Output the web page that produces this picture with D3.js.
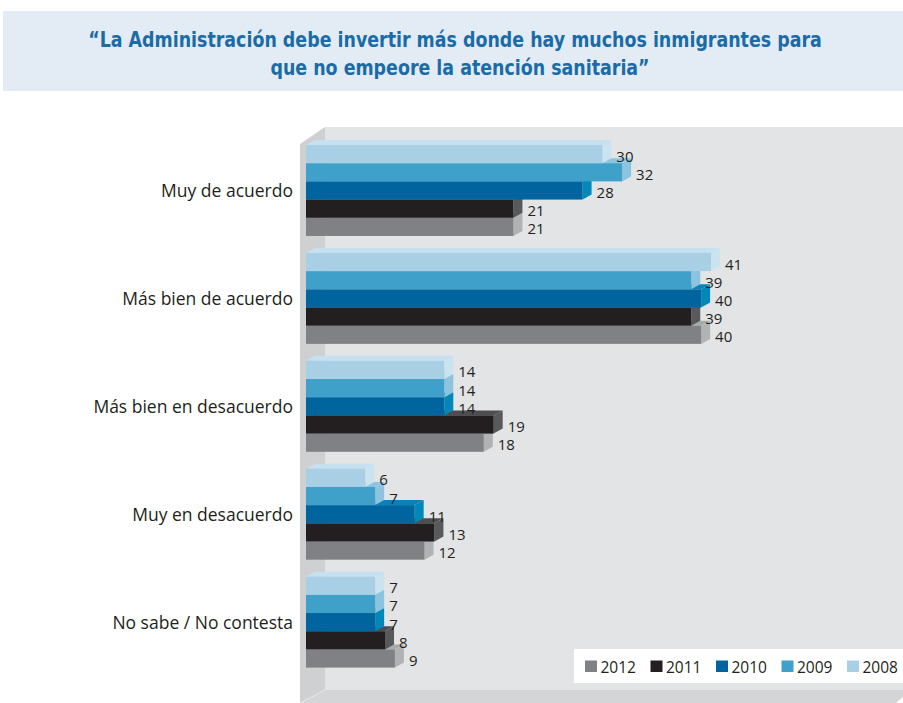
<!DOCTYPE html>
<html>
<head>
<meta charset="utf-8">
<script src="https://cdn.jsdelivr.net/npm/d3@7/dist/d3.min.js"></script>
<style>
  html, body { margin: 0; padding: 0; background: #ffffff; }
  svg { display: block; }
</style>
</head>
<body>
<svg id="chart" width="903" height="703"></svg>
<script>
// ---------- data ----------
const titleLines = [
  "\u201cLa Administración debe invertir más donde hay muchos inmigrantes para",
  "que no empeore la atención sanitaria\u201d"
];
const categories = ["Muy de acuerdo", "Más bien de acuerdo", "Más bien en desacuerdo", "Muy en desacuerdo", "No sabe / No contesta"];
const years = ["2008", "2009", "2010", "2011", "2012"];
const v2008 = [30, 41, 14, 6, 7];
const v2009 = [32, 39, 14, 7, 7];
const v2010 = [28, 40, 14, 11, 7];
const v2011 = [21, 39, 19, 13, 8];
const v2012 = [21, 40, 18, 12, 9];
const legendYears = ["2012", "2011", "2010", "2009", "2008"];

const seriesByYear = { "2008": v2008, "2009": v2009, "2010": v2010, "2011": v2011, "2012": v2012 };
const colors = {
  "2008": { front: "#a8cfe3", top: "#c6e0f0", side: "#cbe2ef" },
  "2009": { front: "#3fa1c9", top: "#8cc5e2", side: "#8cc3df" },
  "2010": { front: "#00659e", top: "#0a82b8", side: "#0088b8" },
  "2011": { front: "#231f20", top: "#4e4e50", side: "#58595b" },
  "2012": { front: "#808184", top: "#a9aaac", side: "#b1b2b4" }
};

const svg = d3.select("#chart");
const textColor = "#231f20";

// ---------- title ----------
svg.append("rect").attr("x", 3).attr("y", 11).attr("width", 900).attr("height", 80).attr("fill", "#e3ebf4");
const titleFirstWidth = 734;
const titleG = svg.append("g");
const titleTexts = titleG.selectAll("text").data(titleLines).join("text")
  .attr("text-anchor", "middle")
  .attr("x", 0)
  .attr("y", (d, i) => 47 + i * 28)
  .attr("font-family", "'Liberation Sans Narrow', 'DejaVu Sans Condensed', 'Open Sans', sans-serif")
  .attr("font-weight", "bold")
  .attr("font-size", 22)
  .attr("fill", "#1b6ca6")
  .text(d => d);
const natural = titleTexts.nodes()[0].getComputedTextLength();
const sx = Math.min(1, titleFirstWidth / natural);
titleTexts.attr("transform", (d, i) => `translate(${i === 0 ? 455 : 460},0) scale(${sx},1)`);

// ---------- 3D walls ----------
const wallLeft = 300, wallBack = 325, wallTop = 127, wallTopFront = 144, floorY = 690, bottom = 703;
svg.append("rect").attr("x", wallBack).attr("y", wallTop).attr("width", 903 - wallBack).attr("height", floorY - wallTop).attr("fill", "#e3e4e6");
svg.append("polygon")
  .attr("points", [[wallLeft, wallTopFront], [wallBack, wallTop], [wallBack, floorY], [wallLeft, bottom]].map(p => p.join(",")).join(" "))
  .attr("fill", "#cfd0d2");
svg.append("polygon")
  .attr("points", [[wallLeft, bottom], [wallBack, floorY], [903, floorY], [903, bottom]].map(p => p.join(",")).join(" "))
  .attr("fill", "#d4d5d7");
svg.append("line").attr("x1", wallLeft).attr("y1", bottom).attr("x2", wallBack).attr("y2", floorY)
  .attr("stroke", "#e6e7e8").attr("stroke-width", 1);
svg.append("polygon").attr("points", "896,703 903,697 903,703").attr("fill", "#ffffff");

// ---------- scales ----------
const x = d3.scaleLinear().domain([0, 41]).range([306, 711]);
const yGroup = d3.scaleBand().domain(categories).range([145, 667.6]).paddingInner(0.157).paddingOuter(0);
const yYear = d3.scaleBand().domain(years).range([0, yGroup.bandwidth()]).padding(0);
const dx = 9, dy = 5;

// ---------- bars ----------
const drawOrder = years.slice().reverse(); // bottom bar first so upper bars overlap
categories.forEach((cat, ci) => {
  const g = svg.append("g").attr("transform", `translate(0,${yGroup(cat)})`);
  drawOrder.forEach(yr => {
    const v = seriesByYear[yr][ci];
    const x0 = x(0), x1 = x(v);
    const y0 = yYear(yr), h = yYear.bandwidth();
    const c = colors[yr];
    g.append("polygon")
      .attr("points", [[x0, y0], [x0 + dx, y0 - dy], [x1 + dx, y0 - dy], [x1, y0]].map(p => p.join(",")).join(" "))
      .attr("fill", c.top);
    g.append("polygon")
      .attr("points", [[x1, y0], [x1 + dx, y0 - dy], [x1 + dx, y0 + h - dy], [x1, y0 + h]].map(p => p.join(",")).join(" "))
      .attr("fill", c.side);
    g.append("rect").attr("x", x0).attr("y", y0).attr("width", x1 - x0).attr("height", h).attr("fill", c.front);
  });
  // value labels
  years.forEach(yr => {
    const v = seriesByYear[yr][ci];
    g.append("text")
      .attr("x", x(v) + dx + 5)
      .attr("y", yYear(yr) + yYear.bandwidth() / 2 + 1.5)
      .attr("dominant-baseline", "central")
      .attr("font-family", "'Open Sans', sans-serif")
      .attr("font-size", 15)
      .attr("fill", textColor)
      .text(v);
  });
  // category label
  svg.append("text")
    .attr("x", 293)
    .attr("y", yGroup(cat) + yGroup.bandwidth() / 2)
    .attr("dominant-baseline", "central")
    .attr("text-anchor", "end")
    .attr("font-family", "'Open Sans', sans-serif")
    .attr("font-size", 17.5)
    .attr("fill", textColor)
    .text(cat);
});

// ---------- legend ----------
svg.append("rect").attr("x", 574).attr("y", 649).attr("width", 329).attr("height", 34).attr("fill", "#ffffff");
const legend = svg.append("g");
legendYears.forEach((yr, i) => {
  const lx = 585 + i * 65.5;
  legend.append("rect").attr("x", lx).attr("y", 660.5).attr("width", 12).attr("height", 11.5).attr("fill", colors[yr].front);
  legend.append("text").attr("x", lx + 15.5).attr("y", 666.5)
    .attr("dominant-baseline", "central")
    .attr("font-family", "'Open Sans', sans-serif")
    .attr("font-size", 15.5)
    .attr("fill", textColor)
    .text(yr);
});
</script>
</body>
</html>
